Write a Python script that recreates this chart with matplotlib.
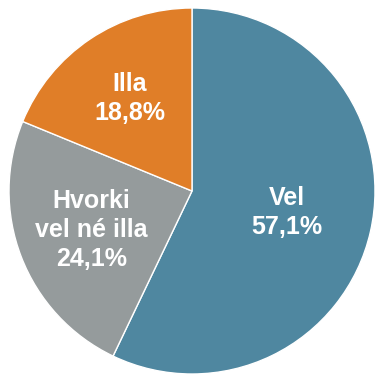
import numpy as np
import matplotlib
matplotlib.use("Agg")
import matplotlib.pyplot as plt

labels = ["Vel", "Hvorki\nvel né illa", "Illa"]
shares = [57.1, 24.1, 18.8]
colors = ["#4f87a0", "#959b9c", "#e07e28"]


def main():
    fig = plt.figure(figsize=(3.78, 3.76), dpi=100)
    ax = fig.add_axes([9 / 378, 2 / 376, 366 / 378, 366 / 376])
    wedges, _ = ax.pie(shares, colors=colors, startangle=90, counterclock=False,
                       radius=1.0, wedgeprops=dict(edgecolor="white", linewidth=1.0))
    # label text sits inside each wedge along its mid angle
    dists = [0.53, 0.59, 0.61]
    for w, lab, val, d in zip(wedges, labels, shares, dists):
        mid = np.deg2rad((w.theta1 + w.theta2) / 2)
        txt = "%s\n%s%%" % (lab, ("%.1f" % val).replace(".", ","))
        ax.text(d * np.cos(mid), d * np.sin(mid), txt, ha="center", va="center",
                color="white", fontsize=18, fontweight="bold",
                family="Liberation Sans", linespacing=1.27)
    ax.set_xlim(-1, 1)
    ax.set_ylim(-1, 1)
    ax.set_aspect("equal")
    ax.axis("off")
    fig.savefig("out.png", dpi=100)


if __name__ == '__main__':
    main()
